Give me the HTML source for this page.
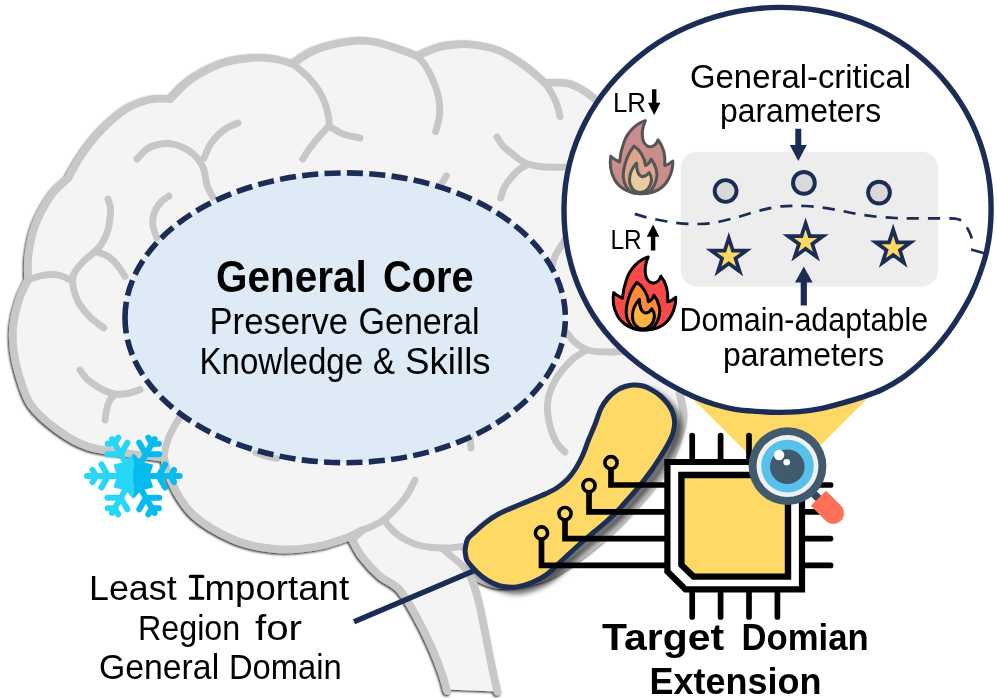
<!DOCTYPE html>
<html><head><meta charset="utf-8"><title>diagram</title>
<style>
html,body{margin:0;padding:0;background:#fff;}
svg{display:block;}
text{font-family:"Liberation Sans",sans-serif;fill:#000;}
</style></head><body>
<svg width="997" height="698" viewBox="0 0 997 698">
<rect width="997" height="698" fill="#fff"/>
<defs>
<filter id="bs" x="-5%" y="-5%" width="110%" height="110%"><feDropShadow dx="-1" dy="1.3" stdDeviation="0.8" flood-color="#000" flood-opacity="0.85"/></filter>
<filter id="ys" x="-20%" y="-20%" width="140%" height="140%"><feDropShadow dx="5.5" dy="4.5" stdDeviation="2.4" flood-color="#000" flood-opacity="0.55"/></filter>
<clipPath id="bc"><path d="M447.0 691.0 C446.2 688.3 444.6 681.1 442.4 674.7 C440.2 668.3 437.1 660.0 434.0 652.7 C430.9 645.4 427.5 638.0 423.8 630.7 C420.1 623.4 416.2 615.7 412.0 608.7 C407.8 601.7 403.9 594.0 398.5 588.5 C393.1 583.0 385.6 580.9 379.5 575.6 C373.4 570.3 366.6 562.7 362.0 556.7 C357.4 550.7 353.7 542.4 352.0 539.5 L362.0 530.3 C360.0 531.3 353.7 534.7 350.0 536.3 C346.3 537.9 344.2 538.6 340.0 540.0 C335.8 541.4 330.6 543.4 325.0 544.7 C319.4 546.0 313.2 547.2 306.5 548.0 C299.8 548.8 292.1 549.5 285.0 549.5 C277.9 549.5 271.5 549.0 264.0 547.7 C256.5 546.5 247.3 544.5 240.0 542.0 C232.7 539.5 226.1 536.2 220.0 533.0 C213.9 529.8 208.4 526.5 203.5 523.0 C198.6 519.5 194.4 516.2 190.5 512.0 C186.6 507.8 183.0 502.7 180.0 498.0 C177.0 493.3 174.7 488.7 172.5 484.0 C170.3 479.3 168.4 474.3 167.0 470.0 C165.6 465.7 164.5 460.0 164.0 458.0 C161.7 457.7 156.5 456.8 150.0 456.0 C143.5 455.2 135.4 454.6 125.0 453.0 C114.6 451.4 99.0 450.3 87.8 446.5 C76.6 442.7 67.2 436.9 57.7 430.0 C48.2 423.1 37.5 414.2 31.0 405.0 C24.6 395.8 21.9 384.2 19.0 375.0 C16.1 365.8 14.5 358.2 13.6 350.0 C12.7 341.8 12.4 333.8 13.3 325.5 C14.2 317.2 16.6 307.6 19.0 300.0 C21.4 292.4 26.5 283.3 28.0 280.0 C28.1 275.8 27.3 264.2 28.5 255.0 C29.7 245.8 31.5 235.0 35.3 225.0 C39.1 215.0 46.0 202.8 51.5 195.0 C57.0 187.2 65.2 181.2 68.0 178.5 C68.8 177.1 69.7 174.8 72.5 170.0 C75.3 165.2 80.0 156.8 85.0 150.0 C90.0 143.2 95.7 135.8 102.5 129.0 C109.3 122.2 118.1 113.9 126.0 109.0 C133.9 104.1 142.6 101.2 150.0 99.5 C157.4 97.8 167.1 99.1 170.5 99.0 C173.8 95.8 181.8 85.8 190.0 80.0 C198.2 74.2 210.0 67.7 220.0 64.0 C230.0 60.3 240.8 58.8 250.0 58.0 C259.2 57.2 267.9 58.0 275.0 59.0 C282.1 60.0 289.7 63.2 292.6 64.0 C296.3 61.7 305.4 53.8 315.0 50.0 C324.6 46.2 340.0 42.6 350.0 41.3 C360.0 40.0 366.7 40.6 375.0 42.0 C383.3 43.4 393.0 47.2 400.0 49.5 C407.0 51.8 414.2 54.9 417.0 56.0 C420.5 54.6 431.7 49.5 438.0 47.6 C444.3 45.7 448.8 44.9 455.0 44.5 C461.2 44.1 467.5 43.9 475.0 45.0 C482.5 46.1 491.7 47.5 500.0 51.0 C508.3 54.5 517.5 60.7 525.0 66.0 C532.5 71.3 541.7 80.2 545.0 83.0 C549.2 83.2 561.7 81.3 570.0 84.0 C578.3 86.7 586.7 92.2 595.0 99.0 C603.3 105.8 612.5 114.8 620.0 125.0 C627.5 135.2 636.7 154.2 640.0 160.0 L700 300 L679.5 393 C680.2 396.8 683.8 408.2 683.5 416.0 C683.2 423.8 680.2 431.8 677.5 440.0 C674.8 448.2 673.2 455.0 667.0 465.0 C660.8 475.0 651.2 487.5 640.0 500.0 C628.8 512.5 615.0 527.5 600.0 540.0 C585.0 552.5 566.7 567.5 550.0 575.0 C533.3 582.5 513.7 585.5 500.0 585.0 C486.3 584.5 473.3 574.2 468.0 572.0 C468.9 574.0 471.7 578.8 473.5 584.0 C475.3 589.2 477.1 595.2 479.0 603.0 C480.9 610.8 483.0 622.4 484.7 630.7 C486.4 639.0 487.5 645.4 489.0 652.7 C490.5 660.0 492.1 668.2 493.5 674.7 C494.9 681.2 496.8 688.8 497.4 691.6 L447 689.5 Z"/></clipPath>
</defs>
<g filter="url(#bs)"><path d="M447.0 691.0 C446.2 688.3 444.6 681.1 442.4 674.7 C440.2 668.3 437.1 660.0 434.0 652.7 C430.9 645.4 427.5 638.0 423.8 630.7 C420.1 623.4 416.2 615.7 412.0 608.7 C407.8 601.7 403.9 594.0 398.5 588.5 C393.1 583.0 385.6 580.9 379.5 575.6 C373.4 570.3 366.6 562.7 362.0 556.7 C357.4 550.7 353.7 542.4 352.0 539.5 L362.0 530.3 C360.0 531.3 353.7 534.7 350.0 536.3 C346.3 537.9 344.2 538.6 340.0 540.0 C335.8 541.4 330.6 543.4 325.0 544.7 C319.4 546.0 313.2 547.2 306.5 548.0 C299.8 548.8 292.1 549.5 285.0 549.5 C277.9 549.5 271.5 549.0 264.0 547.7 C256.5 546.5 247.3 544.5 240.0 542.0 C232.7 539.5 226.1 536.2 220.0 533.0 C213.9 529.8 208.4 526.5 203.5 523.0 C198.6 519.5 194.4 516.2 190.5 512.0 C186.6 507.8 183.0 502.7 180.0 498.0 C177.0 493.3 174.7 488.7 172.5 484.0 C170.3 479.3 168.4 474.3 167.0 470.0 C165.6 465.7 164.5 460.0 164.0 458.0 C161.7 457.7 156.5 456.8 150.0 456.0 C143.5 455.2 135.4 454.6 125.0 453.0 C114.6 451.4 99.0 450.3 87.8 446.5 C76.6 442.7 67.2 436.9 57.7 430.0 C48.2 423.1 37.5 414.2 31.0 405.0 C24.6 395.8 21.9 384.2 19.0 375.0 C16.1 365.8 14.5 358.2 13.6 350.0 C12.7 341.8 12.4 333.8 13.3 325.5 C14.2 317.2 16.6 307.6 19.0 300.0 C21.4 292.4 26.5 283.3 28.0 280.0 C28.1 275.8 27.3 264.2 28.5 255.0 C29.7 245.8 31.5 235.0 35.3 225.0 C39.1 215.0 46.0 202.8 51.5 195.0 C57.0 187.2 65.2 181.2 68.0 178.5 C68.8 177.1 69.7 174.8 72.5 170.0 C75.3 165.2 80.0 156.8 85.0 150.0 C90.0 143.2 95.7 135.8 102.5 129.0 C109.3 122.2 118.1 113.9 126.0 109.0 C133.9 104.1 142.6 101.2 150.0 99.5 C157.4 97.8 167.1 99.1 170.5 99.0 C173.8 95.8 181.8 85.8 190.0 80.0 C198.2 74.2 210.0 67.7 220.0 64.0 C230.0 60.3 240.8 58.8 250.0 58.0 C259.2 57.2 267.9 58.0 275.0 59.0 C282.1 60.0 289.7 63.2 292.6 64.0 C296.3 61.7 305.4 53.8 315.0 50.0 C324.6 46.2 340.0 42.6 350.0 41.3 C360.0 40.0 366.7 40.6 375.0 42.0 C383.3 43.4 393.0 47.2 400.0 49.5 C407.0 51.8 414.2 54.9 417.0 56.0 C420.5 54.6 431.7 49.5 438.0 47.6 C444.3 45.7 448.8 44.9 455.0 44.5 C461.2 44.1 467.5 43.9 475.0 45.0 C482.5 46.1 491.7 47.5 500.0 51.0 C508.3 54.5 517.5 60.7 525.0 66.0 C532.5 71.3 541.7 80.2 545.0 83.0 C549.2 83.2 561.7 81.3 570.0 84.0 C578.3 86.7 586.7 92.2 595.0 99.0 C603.3 105.8 612.5 114.8 620.0 125.0 C627.5 135.2 636.7 154.2 640.0 160.0 L700 300 L679.5 393 C680.2 396.8 683.8 408.2 683.5 416.0 C683.2 423.8 680.2 431.8 677.5 440.0 C674.8 448.2 673.2 455.0 667.0 465.0 C660.8 475.0 651.2 487.5 640.0 500.0 C628.8 512.5 615.0 527.5 600.0 540.0 C585.0 552.5 566.7 567.5 550.0 575.0 C533.3 582.5 513.7 585.5 500.0 585.0 C486.3 584.5 473.3 574.2 468.0 572.0 C468.9 574.0 471.7 578.8 473.5 584.0 C475.3 589.2 477.1 595.2 479.0 603.0 C480.9 610.8 483.0 622.4 484.7 630.7 C486.4 639.0 487.5 645.4 489.0 652.7 C490.5 660.0 492.1 668.2 493.5 674.7 C494.9 681.2 496.8 688.8 497.4 691.6 L447 689.5 Z" fill="#f4f4f4"/><path d="M447.0 691.0 C446.2 688.3 444.6 681.1 442.4 674.7 C440.2 668.3 437.1 660.0 434.0 652.7 C430.9 645.4 427.5 638.0 423.8 630.7 C420.1 623.4 416.2 615.7 412.0 608.7 C407.8 601.7 403.9 594.0 398.5 588.5 C393.1 583.0 385.6 580.9 379.5 575.6 C373.4 570.3 366.6 562.7 362.0 556.7 C357.4 550.7 353.7 542.4 352.0 539.5 L362.0 530.3 C360.0 531.3 353.7 534.7 350.0 536.3 C346.3 537.9 344.2 538.6 340.0 540.0 C335.8 541.4 330.6 543.4 325.0 544.7 C319.4 546.0 313.2 547.2 306.5 548.0 C299.8 548.8 292.1 549.5 285.0 549.5 C277.9 549.5 271.5 549.0 264.0 547.7 C256.5 546.5 247.3 544.5 240.0 542.0 C232.7 539.5 226.1 536.2 220.0 533.0 C213.9 529.8 208.4 526.5 203.5 523.0 C198.6 519.5 194.4 516.2 190.5 512.0 C186.6 507.8 183.0 502.7 180.0 498.0 C177.0 493.3 174.7 488.7 172.5 484.0 C170.3 479.3 168.4 474.3 167.0 470.0 C165.6 465.7 164.5 460.0 164.0 458.0 C161.7 457.7 156.5 456.8 150.0 456.0 C143.5 455.2 135.4 454.6 125.0 453.0 C114.6 451.4 99.0 450.3 87.8 446.5 C76.6 442.7 67.2 436.9 57.7 430.0 C48.2 423.1 37.5 414.2 31.0 405.0 C24.6 395.8 21.9 384.2 19.0 375.0 C16.1 365.8 14.5 358.2 13.6 350.0 C12.7 341.8 12.4 333.8 13.3 325.5 C14.2 317.2 16.6 307.6 19.0 300.0 C21.4 292.4 26.5 283.3 28.0 280.0 C28.1 275.8 27.3 264.2 28.5 255.0 C29.7 245.8 31.5 235.0 35.3 225.0 C39.1 215.0 46.0 202.8 51.5 195.0 C57.0 187.2 65.2 181.2 68.0 178.5 C68.8 177.1 69.7 174.8 72.5 170.0 C75.3 165.2 80.0 156.8 85.0 150.0 C90.0 143.2 95.7 135.8 102.5 129.0 C109.3 122.2 118.1 113.9 126.0 109.0 C133.9 104.1 142.6 101.2 150.0 99.5 C157.4 97.8 167.1 99.1 170.5 99.0 C173.8 95.8 181.8 85.8 190.0 80.0 C198.2 74.2 210.0 67.7 220.0 64.0 C230.0 60.3 240.8 58.8 250.0 58.0 C259.2 57.2 267.9 58.0 275.0 59.0 C282.1 60.0 289.7 63.2 292.6 64.0 C296.3 61.7 305.4 53.8 315.0 50.0 C324.6 46.2 340.0 42.6 350.0 41.3 C360.0 40.0 366.7 40.6 375.0 42.0 C383.3 43.4 393.0 47.2 400.0 49.5 C407.0 51.8 414.2 54.9 417.0 56.0 C420.5 54.6 431.7 49.5 438.0 47.6 C444.3 45.7 448.8 44.9 455.0 44.5 C461.2 44.1 467.5 43.9 475.0 45.0 C482.5 46.1 491.7 47.5 500.0 51.0 C508.3 54.5 517.5 60.7 525.0 66.0 C532.5 71.3 541.7 80.2 545.0 83.0 C549.2 83.2 561.7 81.3 570.0 84.0 C578.3 86.7 586.7 92.2 595.0 99.0 C603.3 105.8 612.5 114.8 620.0 125.0 C627.5 135.2 636.7 154.2 640.0 160.0 L700 300 L679.5 393 C680.2 396.8 683.8 408.2 683.5 416.0 C683.2 423.8 680.2 431.8 677.5 440.0 C674.8 448.2 673.2 455.0 667.0 465.0 C660.8 475.0 651.2 487.5 640.0 500.0 C628.8 512.5 615.0 527.5 600.0 540.0 C585.0 552.5 566.7 567.5 550.0 575.0 C533.3 582.5 513.7 585.5 500.0 585.0 C486.3 584.5 473.3 574.2 468.0 572.0 C468.9 574.0 471.7 578.8 473.5 584.0 C475.3 589.2 477.1 595.2 479.0 603.0 C480.9 610.8 483.0 622.4 484.7 630.7 C486.4 639.0 487.5 645.4 489.0 652.7 C490.5 660.0 492.1 668.2 493.5 674.7 C494.9 681.2 496.8 688.8 497.4 691.6" fill="none" stroke="#c8c8c8" stroke-width="7.8" stroke-linejoin="round" stroke-linecap="round"/></g>
<g fill="none" stroke="#c7c7c7" stroke-width="6.9" stroke-linecap="round" stroke-linejoin="round">
<path d="M137.0 159.0 C138.7 157.3 143.2 151.5 147.0 149.0 C150.8 146.5 155.3 144.8 160.0 144.0 C164.7 143.2 170.3 143.5 175.0 144.5 C179.7 145.5 184.2 147.6 188.0 150.0 C191.8 152.4 195.3 155.7 198.0 159.0 C200.7 162.3 202.5 165.7 204.0 170.0 C205.5 174.3 205.5 180.4 207.0 185.0 C208.5 189.6 212.0 195.4 213.0 197.5"/>
<path d="M238.0 123.0 C236.2 123.8 230.3 126.0 227.0 128.0 C223.7 130.0 220.8 132.2 218.0 135.0 C215.2 137.8 212.3 141.2 210.0 145.0 C207.7 148.8 205.0 155.8 204.0 158.0"/>
<path d="M292.6 64.0 C294.7 65.7 301.3 70.5 305.0 74.0 C308.7 77.5 312.1 81.2 315.0 85.0 C317.9 88.8 320.4 93.2 322.3 97.0 C324.2 100.8 325.4 104.5 326.5 108.0 C327.6 111.5 328.2 115.0 328.7 118.0 C329.2 121.0 329.2 124.7 329.3 126.0"/>
<path d="M329.0 126.0 C331.3 127.3 337.8 132.0 343.0 134.0 C348.2 136.0 357.2 137.3 360.0 138.0"/>
<path d="M329.0 126.0 C327.2 128.0 321.2 134.3 318.0 138.0 C314.8 141.7 312.6 144.5 310.0 148.0 C307.4 151.5 303.9 157.2 302.7 159.0"/>
<path d="M417.0 56.0 C418.3 57.5 422.8 61.8 425.0 65.0 C427.2 68.2 428.7 71.2 430.5 75.0 C432.3 78.8 434.6 83.8 436.0 88.0 C437.4 92.2 438.4 95.3 439.0 100.0 C439.6 104.7 440.1 110.7 439.5 116.0 C438.9 121.3 436.2 129.0 435.6 131.6"/>
<path d="M545.0 83.0 C546.0 84.5 549.3 89.2 551.0 92.0 C552.7 94.8 553.8 97.3 555.0 100.0 C556.2 102.7 557.2 105.2 558.0 108.0 C558.8 110.8 559.7 115.2 560.0 116.6"/>
<path d="M497.0 137.0 C498.0 138.5 500.8 143.5 503.0 146.0 C505.2 148.5 507.5 149.9 510.0 152.0 C512.5 154.1 515.0 156.5 518.0 158.5 C521.0 160.5 524.3 162.7 528.0 164.0 C531.7 165.3 536.0 166.0 540.0 166.5 C544.0 167.0 547.0 167.1 552.0 167.2 C557.0 167.3 567.0 167.0 570.0 167.0"/>
<path d="M528.0 164.5 C526.7 165.2 522.3 167.4 520.0 169.0 C517.7 170.6 516.3 172.0 514.4 174.0 C512.5 176.0 510.2 178.7 508.5 181.0 C506.8 183.3 505.3 185.2 504.0 188.0 C502.7 190.8 501.2 196.3 500.6 198.0"/>
<path d="M575.0 228.0 C573.8 229.2 570.1 232.4 568.0 235.0 C565.9 237.6 564.6 240.5 562.5 243.8 C560.4 247.1 557.4 251.2 555.6 255.0 C553.9 258.8 552.6 264.8 552.0 266.7"/>
<path d="M28.0 280.0 C30.0 279.3 36.3 276.9 40.0 276.0 C43.7 275.1 46.7 274.6 50.0 274.5 C53.3 274.4 56.3 274.5 60.0 275.5 C63.7 276.5 70.0 279.7 72.0 280.5"/>
<path d="M108.0 199.0 C108.4 200.5 110.2 204.9 110.5 208.0 C110.8 211.1 110.3 214.3 110.0 217.6 C109.7 220.9 109.3 224.7 108.5 228.0 C107.7 231.3 106.4 234.7 105.0 237.7 C103.6 240.7 101.7 243.7 100.0 246.0 C98.3 248.3 97.3 249.3 95.0 251.5 C92.7 253.7 88.9 256.3 86.0 259.0 C83.1 261.7 79.8 265.1 77.7 267.8 C75.6 270.5 74.3 272.5 73.5 275.0 C72.7 277.5 72.5 279.8 72.7 283.0 C73.0 286.2 73.8 290.3 75.0 294.0 C76.2 297.7 77.3 301.0 80.0 305.0 C82.7 309.0 87.0 314.2 91.0 318.0 C95.0 321.8 101.8 326.3 104.0 328.0"/>
<path d="M95.0 251.5 C96.3 251.9 100.5 253.0 103.0 254.0 C105.5 255.0 107.5 255.7 110.0 257.7 C112.5 259.7 115.5 262.9 118.0 266.0 C120.5 269.1 123.8 274.8 125.0 276.5"/>
<path d="M169.0 196.0 C167.7 197.0 163.2 199.7 161.0 202.0 C158.8 204.3 156.8 207.3 155.5 210.0 C154.2 212.7 153.4 215.3 153.0 218.0 C152.6 220.7 152.4 222.7 153.0 226.0 C153.6 229.3 156.1 235.8 156.7 237.7"/>
<path d="M80.0 370.0 C81.0 371.3 83.5 375.5 86.0 378.0 C88.5 380.5 92.0 382.9 95.0 385.0 C98.0 387.1 100.7 389.0 104.0 390.5 C107.3 392.0 111.0 393.5 115.0 394.0 C119.0 394.5 123.8 394.2 128.0 393.5 C132.2 392.8 138.0 390.2 140.0 389.6"/>
<path d="M115.0 394.6 C114.2 395.5 111.3 397.8 110.0 400.0 C108.7 402.2 107.8 404.7 107.0 408.0 C106.2 411.3 105.3 418.0 105.0 420.0"/>
<path d="M164.0 458.0 C164.2 456.3 164.7 451.5 165.5 448.0 C166.3 444.5 167.6 440.5 169.0 437.0 C170.4 433.5 172.2 430.3 174.0 427.0 C175.8 423.7 179.0 418.7 180.0 417.0"/>
<path d="M256.0 452.5 C257.7 453.1 262.5 455.3 266.0 456.3 C269.5 457.3 275.2 458.0 277.0 458.3"/>
<path d="M415.0 480.0 C414.2 481.5 412.2 486.0 410.5 489.0 C408.8 492.0 407.8 494.4 405.0 498.0 C402.2 501.6 397.7 506.8 394.0 510.5 C390.3 514.2 386.7 517.7 383.0 520.3 C379.3 522.9 375.5 524.6 372.0 526.3 C368.5 528.0 363.7 529.6 362.0 530.3"/>
<path d="M384.0 520.0 C385.0 521.2 387.9 525.2 390.0 527.5 C392.1 529.8 394.0 531.9 396.7 534.0 C399.4 536.1 402.6 538.2 406.0 540.0 C409.4 541.8 413.0 543.5 417.0 544.7 C421.0 545.9 425.7 546.8 430.0 547.3 C434.3 547.8 439.3 547.9 443.0 548.0 C446.7 548.1 448.8 548.0 452.0 547.8 C455.2 547.5 460.3 546.7 462.0 546.5"/>
<path d="M443.0 549.0 C444.3 550.2 448.2 553.6 451.0 556.0 C453.8 558.4 457.2 560.9 460.0 563.6 C462.8 566.3 466.7 570.6 468.0 572.0"/>
<path d="M470.0 436.0 C470.2 438.0 470.8 446.0 471.0 448.0"/>
<path d="M567.6 333.5 C568.5 334.7 570.9 338.4 573.0 340.5 C575.1 342.6 578.0 344.8 580.5 346.4 C583.0 348.0 585.4 349.1 588.0 350.0 C590.6 350.9 592.7 351.3 596.0 351.6 C599.3 351.9 603.7 352.0 608.0 352.0 C612.3 352.0 615.0 351.8 622.0 351.6 C629.0 351.4 645.3 351.1 650.0 351.0"/>
<path d="M586.0 350.3 C584.0 351.6 577.5 355.2 574.0 358.0 C570.5 360.8 568.0 363.5 565.0 367.0 C562.0 370.5 558.6 374.7 556.0 379.0 C553.4 383.3 551.0 388.6 549.6 392.8 C548.2 397.0 547.8 400.1 547.5 404.0 C547.2 407.9 547.5 412.0 548.0 416.0 C548.5 420.0 549.4 424.2 550.5 428.0 C551.6 431.8 553.3 436.0 554.7 439.0 C556.1 442.0 557.3 443.8 559.0 446.0 C560.7 448.2 564.0 451.0 565.0 452.0"/>
<path d="M446.4 175.8 C445.5 177.3 441.9 183.3 441.0 184.8"/>
</g>
<path d="M125.0 317.8 A220.2 144.9 0 1 1 565.4 317.8 A220.2 144.9 0 1 1 125.0 317.8" fill="#deebf7" stroke="#1b2d56" stroke-width="5.6" stroke-dasharray="16.100 6.314"/>
<path d="M690 396 L748 454 L822 444 L874 392 L790 380 Z" fill="#ffd966"/>
<g filter="url(#ys)"><path d="M465.0 550.5 C465.4 548.7 465.9 542.5 467.5 539.5 C469.1 536.5 471.5 535.1 474.4 532.4 C477.3 529.6 481.0 526.1 485.0 523.0 C489.0 519.9 492.7 517.1 498.5 514.0 C504.3 510.9 513.0 507.5 520.0 504.5 C527.0 501.5 534.6 498.7 540.6 496.0 C546.6 493.3 551.5 491.3 556.0 488.5 C560.5 485.7 564.4 482.4 567.7 479.0 C571.0 475.6 573.5 472.0 576.0 468.0 C578.5 464.0 580.7 459.7 582.8 455.0 C584.9 450.3 586.5 445.0 588.5 440.0 C590.5 435.0 592.7 430.2 594.8 425.0 C596.9 419.8 598.8 413.0 601.0 408.5 C603.2 404.0 605.3 401.1 608.0 398.0 C610.7 394.9 614.5 391.9 617.3 390.0 C620.1 388.1 622.3 387.3 625.0 386.5 C627.7 385.7 630.4 385.1 633.4 385.0 C636.4 384.9 640.0 385.2 643.0 386.0 C646.0 386.8 648.9 388.2 651.7 389.8 C654.5 391.4 657.3 393.2 660.0 395.5 C662.7 397.8 665.6 400.9 667.7 403.6 C669.8 406.4 671.4 408.9 672.5 412.0 C673.6 415.1 674.5 418.5 674.6 422.0 C674.7 425.5 674.1 429.2 673.0 433.0 C671.9 436.8 669.9 440.7 667.7 444.8 C665.5 448.9 662.7 453.3 660.0 457.5 C657.3 461.7 654.5 466.0 651.7 470.0 C648.9 474.0 645.7 478.1 643.0 481.5 C640.3 484.9 638.4 487.4 635.6 490.7 C632.8 494.0 629.4 497.7 626.0 501.5 C622.6 505.3 618.2 510.4 615.0 513.6 C611.8 516.9 610.5 517.9 607.0 521.0 C603.5 524.1 598.5 528.2 594.0 532.0 C589.5 535.8 585.0 539.4 579.8 544.0 C574.6 548.6 568.5 554.4 563.0 559.5 C557.5 564.6 551.9 570.7 546.7 574.5 C541.5 578.3 537.0 580.4 532.0 582.5 C527.0 584.6 521.4 586.3 516.6 587.0 C511.8 587.7 507.0 587.2 503.0 586.5 C499.0 585.8 496.0 584.7 492.5 583.0 C489.0 581.3 485.2 579.0 482.0 576.5 C478.8 574.0 475.5 570.8 473.0 568.0 C470.5 565.2 468.1 562.9 466.8 560.0 C465.5 557.1 465.3 552.1 465.0 550.5Z" fill="#ffd966" stroke="#1b2d56" stroke-width="5" stroke-linejoin="round"/></g>
<path d="M991.10 208.00 C991.13 215.43 990.83 222.90 990.05 230.29 C989.27 237.67 988.13 245.09 986.43 252.30 C984.73 259.52 982.36 266.62 979.87 273.59 C977.38 280.57 974.68 287.49 971.49 294.15 C968.31 300.80 964.59 307.23 960.76 313.52 C956.94 319.81 952.90 325.99 948.54 331.90 C944.17 337.81 939.52 343.56 934.57 348.98 C929.63 354.40 924.34 359.56 918.86 364.44 C913.38 369.32 907.74 374.12 901.70 378.26 C895.67 382.40 889.24 386.12 882.66 389.27 C876.07 392.41 869.07 394.78 862.20 397.13 C855.34 399.47 848.39 401.41 841.47 403.33 C834.54 405.25 827.66 407.27 820.65 408.64 C813.64 410.01 806.50 410.95 799.40 411.57 C792.29 412.18 785.13 412.37 778.00 412.34 C770.87 412.30 763.76 411.86 756.63 411.35 C749.49 410.85 742.27 410.50 735.21 409.32 C728.14 408.14 721.10 406.38 714.23 404.28 C707.35 402.18 700.59 399.57 693.98 396.72 C687.37 393.86 680.90 390.62 674.57 387.15 C668.23 383.69 662.05 379.92 655.98 375.95 C649.90 371.99 643.89 367.84 638.12 363.36 C632.34 358.87 626.66 354.14 621.34 349.05 C616.03 343.96 610.92 338.53 606.21 332.81 C601.50 327.10 597.07 321.04 593.09 314.76 C589.12 308.47 585.55 301.85 582.37 295.10 C579.20 288.35 576.40 281.36 574.03 274.27 C571.66 267.19 569.66 259.92 568.14 252.61 C566.62 245.29 565.60 237.83 564.91 230.40 C564.23 222.96 563.92 215.46 564.00 208.00 C564.09 200.54 564.51 193.04 565.43 185.66 C566.35 178.27 567.73 170.89 569.52 163.69 C571.30 156.48 573.54 149.34 576.15 142.42 C578.76 135.49 581.80 128.70 585.17 122.15 C588.54 115.60 592.31 109.23 596.36 103.13 C600.41 97.03 604.83 91.15 609.48 85.56 C614.13 79.97 619.11 74.63 624.28 69.59 C629.46 64.55 634.91 59.78 640.53 55.33 C646.15 50.87 652.01 46.70 658.01 42.85 C664.01 38.99 670.20 35.44 676.51 32.21 C682.81 28.98 689.28 26.05 695.83 23.45 C702.38 20.84 709.07 18.55 715.81 16.58 C722.54 14.61 729.39 12.96 736.26 11.63 C743.13 10.29 750.08 9.28 757.04 8.58 C764.00 7.88 771.01 7.49 778.00 7.41 C784.99 7.34 792.02 7.57 799.01 8.12 C806.00 8.67 813.00 9.54 819.93 10.74 C826.86 11.94 833.78 13.47 840.60 15.34 C847.42 17.21 854.20 19.41 860.83 21.95 C867.47 24.50 874.04 27.38 880.42 30.60 C886.81 33.82 893.09 37.38 899.14 41.26 C905.20 45.14 911.11 49.37 916.76 53.89 C922.41 58.42 927.87 63.28 933.03 68.41 C938.19 73.54 943.12 79.00 947.71 84.70 C952.30 90.40 956.62 96.39 960.57 102.59 C964.51 108.80 968.15 115.27 971.38 121.90 C974.61 128.53 977.49 135.40 979.96 142.38 C982.42 149.36 984.50 156.53 986.15 163.76 C987.80 170.98 989.05 178.36 989.87 185.73 C990.70 193.11 991.07 200.57 991.10 208.00 Z" fill="#fff" stroke="#1b2d56" stroke-width="5.4"/>
<line x1="474" y1="570.8" x2="354" y2="621.8" stroke="#1b2d56" stroke-width="5.3"/>
<g fill="none" stroke="#000" stroke-width="5.7" stroke-linecap="round" stroke-linejoin="miter">
<line x1="692.2" y1="435.5" x2="692.2" y2="461" />
<line x1="692.2" y1="591" x2="692.2" y2="617" />
<line x1="720.6" y1="435.5" x2="720.6" y2="461" />
<line x1="720.6" y1="591" x2="720.6" y2="617" />
<line x1="749" y1="435.5" x2="749" y2="461" />
<line x1="749" y1="591" x2="749" y2="617" />
<line x1="777.4" y1="435.5" x2="777.4" y2="461" />
<line x1="777.4" y1="591" x2="777.4" y2="617" />
<line x1="803" y1="485" x2="830.6" y2="485" />
<line x1="803" y1="511.8" x2="830.6" y2="511.8" />
<line x1="803" y1="538.6" x2="830.6" y2="538.6" />
<line x1="803" y1="565.4" x2="830.6" y2="565.4" />
<path d="M611 468.7 L611 485 L666 485" stroke-linecap="butt"/>
<path d="M589 491.6 L589 511.8 L666 511.8" stroke-linecap="butt"/>
<path d="M565 519.6 L565 538.6 L666 538.6" stroke-linecap="butt"/>
<path d="M541.5 539 L541.5 565.4 L666 565.4" stroke-linecap="butt"/>
</g>
<circle cx="611" cy="462.7" r="6.1" fill="#ffd966" stroke="#000" stroke-width="3.6"/>
<circle cx="589" cy="485.6" r="6.1" fill="#ffd966" stroke="#000" stroke-width="3.6"/>
<circle cx="565" cy="513.6" r="6.1" fill="#ffd966" stroke="#000" stroke-width="3.6"/>
<circle cx="541.5" cy="533" r="6.1" fill="#ffd966" stroke="#000" stroke-width="3.6"/>
<path d="M667.4 462 L802 462 L802 589.4 L685.5 589.4 L667.4 571.5 Z" fill="#fff" stroke="#000" stroke-width="6.2" stroke-linejoin="miter"/>
<path d="M681.4 475 L788 475 L788 576.6 L693.5 576.6 L681.4 565 Z" fill="#ffd966" stroke="#000" stroke-width="6.4" stroke-linejoin="miter"/>
<g>
<g transform="translate(818.4 498.3) rotate(45)">
<rect x="-12" y="-3.8" width="14" height="7.6" fill="#2f4a5f"/>
<path d="M0 -10.7 L21 -10.7 A10.7 10.7 0 0 1 21 10.7 L0 10.7 Z" fill="#ff7058"/>
</g>
<circle cx="787.5" cy="466.1" r="38.9" fill="#415a6e"/>
<circle cx="787.5" cy="466.1" r="31" fill="#eef1f2"/>
<circle cx="787.5" cy="466.1" r="26.3" fill="#56c1ea"/>
<circle cx="787.3" cy="466.8" r="17.3" fill="#415a6e"/>
<circle cx="779.1" cy="455" r="5.2" fill="#fff"/>
<circle cx="786.7" cy="462.3" r="3.3" fill="#fff"/>
</g>
<rect x="680.8" y="151.7" width="257" height="134.8" rx="16" ry="16" fill="#ededed"/>
<circle cx="725.6" cy="191" r="10.9" fill="#d9d9d9" stroke="#1b2d56" stroke-width="3.9"/>
<circle cx="803.9" cy="182.9" r="10.9" fill="#d9d9d9" stroke="#1b2d56" stroke-width="3.9"/>
<circle cx="879" cy="192.6" r="10.9" fill="#d9d9d9" stroke="#1b2d56" stroke-width="3.9"/>
<path d="M728.80 238.00 L732.93 250.71 L746.30 250.71 L735.49 258.57 L739.62 271.29 L728.80 263.43 L717.98 271.29 L722.11 258.57 L711.30 250.71 L724.67 250.71Z" fill="#ffd966" stroke="#1b2d56" stroke-width="3.7" stroke-linejoin="miter" stroke-miterlimit="10"/>
<path d="M805.60 223.40 L809.73 236.11 L823.10 236.11 L812.29 243.97 L816.42 256.69 L805.60 248.83 L794.78 256.69 L798.91 243.97 L788.10 236.11 L801.47 236.11Z" fill="#ffd966" stroke="#1b2d56" stroke-width="3.7" stroke-linejoin="miter" stroke-miterlimit="10"/>
<path d="M893.20 229.60 L897.33 242.31 L910.70 242.31 L899.89 250.17 L904.02 262.89 L893.20 255.03 L882.38 262.89 L886.51 250.17 L875.70 242.31 L889.07 242.31Z" fill="#ffd966" stroke="#1b2d56" stroke-width="3.7" stroke-linejoin="miter" stroke-miterlimit="10"/>
<path d="M634.8 214.0 C636.8 214.6 643.1 216.5 646.5 217.4 C649.9 218.3 651.6 218.5 655.0 219.2 C658.4 219.9 663.5 220.9 667.0 221.5 C670.5 222.1 672.5 222.4 676.0 222.8 C679.5 223.2 684.3 223.7 688.0 223.9 C691.7 224.1 694.3 224.1 698.0 224.0 C701.7 223.9 706.3 223.7 710.0 223.3 C713.7 222.9 716.5 222.2 720.0 221.5 C723.5 220.8 727.7 219.7 731.0 218.9 C734.3 218.1 736.7 217.5 740.0 216.5 C743.3 215.5 747.7 214.0 751.0 213.0 C754.3 212.0 756.5 211.4 760.0 210.5 C763.5 209.6 768.3 208.4 772.0 207.7 C775.7 207.0 778.7 206.6 782.0 206.3 C785.3 206.0 788.2 205.9 792.0 205.8 C795.8 205.8 799.9 205.7 805.0 206.0 C810.1 206.3 816.7 206.8 822.5 207.6 C828.3 208.3 834.5 209.5 840.0 210.5 C845.5 211.5 849.8 212.7 855.6 213.7 C861.4 214.7 868.5 215.8 875.0 216.5 C881.5 217.2 888.5 217.7 894.7 218.0 C900.9 218.3 906.0 218.3 912.0 218.4 C918.0 218.5 924.5 218.3 930.8 218.3 C937.1 218.3 945.5 218.2 950.0 218.4 C954.5 218.6 955.8 218.7 958.0 219.3 C960.2 219.9 961.4 220.4 963.0 222.0 C964.6 223.6 966.3 226.4 967.6 228.7 C968.9 231.0 970.1 233.6 971.0 236.0 C971.9 238.4 972.4 241.2 972.8 243.0 C973.2 244.8 973.2 246.3 973.3 247.0" fill="none" stroke="#1b2d56" stroke-width="2.7" stroke-dasharray="12.2 9.03"/>
<line x1="971" y1="249.5" x2="986" y2="253.8" stroke="#1b2d56" stroke-width="2.7"/>
<path d="M795.3 128.7 L801.3 128.7 L801.3 145 L806.8 145 L798.3 161 L789.8 145 L795.3 145 Z" fill="#1b2d56"/>
<path d="M800.7 305.6 L806.9 305.6 L806.9 282.5 L812.6 282.5 L803.8 266.5 L795 282.5 L800.7 282.5 Z" fill="#1b2d56"/>
<path d="M652 89.2 L656.4 89.2 L656.4 102.8 L660.4 102.8 L654.2 115 L648 102.8 L652 102.8 Z" fill="#000"/>
<path d="M650.9 250.6 L655.3 250.6 L655.3 236.7 L659.4 236.7 L653.1 224.5 L646.8 236.7 L650.9 236.7 Z" fill="#000"/>
<g transform="translate(0 0)" stroke="#555" stroke-width="3" stroke-linejoin="round" stroke-linecap="round"><path fill="#c98d8c" d="M645.3 120.6 C637 123 628 131 624 142 C621.5 149 620 156 619.5 162 C616.5 160.3 613 158.5 610.8 156.2 C609.6 163 610.6 172 614.3 179 C619 188 629 193.8 641.5 193.8 C654 193.8 664 188 669 178 C672 172 673 166 672.8 161 C670 163.5 667 165 664.8 165.5 C665.5 156 663 146 658 139.8 C657 143 655 145.5 652 146.5 C648 147.5 644.5 145 643 140 C641.5 134 642.5 127 645.3 120.6 Z"/><path fill="#dba68c" d="M634 146 C629 152 625 162 623.5 171 C622.5 178 624.5 186 630 191.5 C637 194.5 646 194.5 651 190.5 C656 184 658 176 656.5 170.6 C655.5 166 653.5 162 651 159 C650 162 648 164.5 645.5 165.5 C645 158 640 150 634 146 Z"/><path fill="#e9cba1" d="M636.5 163 C632 168 629.5 174 629.5 180 C629.5 187 634 192.6 640 192.6 C646 192.6 651 187 651.5 180 C651.5 177 650.5 174.5 649 172.5 C647 175.5 644 177 641.5 176.5 C638.5 175.5 636.5 170 636.5 163 Z"/></g>
<g transform="translate(2.9 136.3)" stroke="#000" stroke-width="3" stroke-linejoin="round" stroke-linecap="round"><path fill="#f94a4a" d="M645.3 120.6 C637 123 628 131 624 142 C621.5 149 620 156 619.5 162 C616.5 160.3 613 158.5 610.8 156.2 C609.6 163 610.6 172 614.3 179 C619 188 629 193.8 641.5 193.8 C654 193.8 664 188 669 178 C672 172 673 166 672.8 161 C670 163.5 667 165 664.8 165.5 C665.5 156 663 146 658 139.8 C657 143 655 145.5 652 146.5 C648 147.5 644.5 145 643 140 C641.5 134 642.5 127 645.3 120.6 Z"/><path fill="#ff8a3c" d="M634 146 C629 152 625 162 623.5 171 C622.5 178 624.5 186 630 191.5 C637 194.5 646 194.5 651 190.5 C656 184 658 176 656.5 170.6 C655.5 166 653.5 162 651 159 C650 162 648 164.5 645.5 165.5 C645 158 640 150 634 146 Z"/><path fill="#fcb23f" d="M636.5 163 C632 168 629.5 174 629.5 180 C629.5 187 634 192.6 640 192.6 C646 192.6 651 187 651.5 180 C651.5 177 650.5 174.5 649 172.5 C647 175.5 644 177 641.5 176.5 C638.5 175.5 636.5 170 636.5 163 Z"/></g>
<defs><clipPath id="sl"><rect x="70" y="420" width="63.3" height="110"/></clipPath><clipPath id="sr"><rect x="133.3" y="420" width="70" height="110"/></clipPath></defs>
<g clip-path="url(#sl)" stroke="#28d6f7" fill="#28d6f7"><path d="M133.30 476.00 L179.70 476.00 M170.50 476.00 L174.00 482.06 M170.50 476.00 L174.00 469.94 M158.50 476.00 L165.15 487.52 M158.50 476.00 L165.15 464.48 M133.30 476.00 L154.60 512.89 M151.90 508.22 L148.40 514.28 M151.90 508.22 L158.90 508.22 M145.90 497.82 L139.25 509.34 M145.90 497.82 L159.20 497.82 M133.30 476.00 L112.00 512.89 M114.70 508.22 L107.70 508.22 M114.70 508.22 L118.20 514.28 M120.70 497.82 L107.40 497.82 M120.70 497.82 L127.35 509.34 M133.30 476.00 L86.90 476.00 M96.10 476.00 L92.60 469.94 M96.10 476.00 L92.60 482.06 M108.10 476.00 L101.45 464.48 M108.10 476.00 L101.45 487.52 M133.30 476.00 L112.00 439.11 M114.70 443.78 L118.20 437.72 M114.70 443.78 L107.70 443.78 M120.70 454.18 L127.35 442.66 M120.70 454.18 L107.40 454.18 M133.30 476.00 L154.60 439.11 M151.90 443.78 L158.90 443.78 M151.90 443.78 L148.40 437.72 M145.90 454.18 L159.20 454.18 M145.90 454.18 L139.25 442.66" fill="none" stroke-width="6" stroke-linecap="round"/><path d="M151.75 486.65 L140.80 488.99 L133.30 497.30 L125.80 488.99 L114.85 486.65 L118.30 476.00 L114.85 465.35 L125.80 463.01 L133.30 454.70 L140.80 463.01 L151.75 465.35 L148.30 476.00 Z" stroke-width="2.4" stroke-linejoin="round"/></g>
<g clip-path="url(#sr)" stroke="#06bcee" fill="#06bcee"><path d="M133.30 476.00 L179.70 476.00 M170.50 476.00 L174.00 482.06 M170.50 476.00 L174.00 469.94 M158.50 476.00 L165.15 487.52 M158.50 476.00 L165.15 464.48 M133.30 476.00 L154.60 512.89 M151.90 508.22 L148.40 514.28 M151.90 508.22 L158.90 508.22 M145.90 497.82 L139.25 509.34 M145.90 497.82 L159.20 497.82 M133.30 476.00 L112.00 512.89 M114.70 508.22 L107.70 508.22 M114.70 508.22 L118.20 514.28 M120.70 497.82 L107.40 497.82 M120.70 497.82 L127.35 509.34 M133.30 476.00 L86.90 476.00 M96.10 476.00 L92.60 469.94 M96.10 476.00 L92.60 482.06 M108.10 476.00 L101.45 464.48 M108.10 476.00 L101.45 487.52 M133.30 476.00 L112.00 439.11 M114.70 443.78 L118.20 437.72 M114.70 443.78 L107.70 443.78 M120.70 454.18 L127.35 442.66 M120.70 454.18 L107.40 454.18 M133.30 476.00 L154.60 439.11 M151.90 443.78 L158.90 443.78 M151.90 443.78 L148.40 437.72 M145.90 454.18 L159.20 454.18 M145.90 454.18 L139.25 442.66" fill="none" stroke-width="6" stroke-linecap="round"/><path d="M151.75 486.65 L140.80 488.99 L133.30 497.30 L125.80 488.99 L114.85 486.65 L118.30 476.00 L114.85 465.35 L125.80 463.01 L133.30 454.70 L140.80 463.01 L151.75 465.35 L148.30 476.00 Z" stroke-width="2.4" stroke-linejoin="round"/></g>
<path d="M190.3 576.4 L202.9 576.4 M196.6 576.4 L196.6 598.2 M190.3 598.2 L202.9 598.2" fill="none" stroke="#000" stroke-width="3.1" stroke-linecap="round"/>
<g opacity="0.999">
<text x="216.00" y="291.80" font-size="44.77" font-weight="bold" textLength="150.64" lengthAdjust="spacingAndGlyphs">General</text>
<text x="383.00" y="291.80" font-size="44.77" font-weight="bold" textLength="90.59" lengthAdjust="spacingAndGlyphs">Core</text>
<text x="209.50" y="333.80" font-size="37.50" textLength="138.61" lengthAdjust="spacingAndGlyphs">Preserve</text>
<text x="358.50" y="333.80" font-size="37.50" textLength="121.11" lengthAdjust="spacingAndGlyphs">General</text>
<text x="199.50" y="373.70" font-size="36.63" textLength="163.59" lengthAdjust="spacingAndGlyphs">Knowledge</text>
<text x="373.00" y="373.70" font-size="36.63" textLength="22.05" lengthAdjust="spacingAndGlyphs">&amp;</text>
<text x="405.00" y="373.70" font-size="36.63" textLength="85.65" lengthAdjust="spacingAndGlyphs">Skills</text>
<text x="89.00" y="599.70" font-size="35.03" textLength="87.63" lengthAdjust="spacingAndGlyphs">Least</text>
<text x="204.50" y="599.70" font-size="35.03" textLength="144.56" lengthAdjust="spacingAndGlyphs">mportant</text>
<text x="138.00" y="639.70" font-size="35.03" textLength="102.22" lengthAdjust="spacingAndGlyphs">Region</text>
<text x="255.00" y="639.70" font-size="35.03" textLength="47.05" lengthAdjust="spacingAndGlyphs">for</text>
<text x="99.00" y="678.90" font-size="35.03" textLength="120.14" lengthAdjust="spacingAndGlyphs">General</text>
<text x="229.00" y="678.90" font-size="35.03" textLength="112.73" lengthAdjust="spacingAndGlyphs">Domain</text>
<text x="602.00" y="649.70" font-size="36.34" font-weight="bold" textLength="122.01" lengthAdjust="spacingAndGlyphs">Target</text>
<text x="741.50" y="649.70" font-size="36.34" font-weight="bold" textLength="127.14" lengthAdjust="spacingAndGlyphs">Domian</text>
<text x="649.50" y="693.90" font-size="36.77" font-weight="bold" textLength="172.13" lengthAdjust="spacingAndGlyphs">Extension</text>
<text x="690.00" y="88.20" font-size="34.01" textLength="221.08" lengthAdjust="spacingAndGlyphs">General-critical</text>
<text x="720.00" y="122.00" font-size="34.01" textLength="161.06" lengthAdjust="spacingAndGlyphs">parameters</text>
<text x="679.50" y="331.00" font-size="33.43" textLength="248.56" lengthAdjust="spacingAndGlyphs">Domain-adaptable</text>
<text x="723.00" y="365.60" font-size="33.43" textLength="161.06" lengthAdjust="spacingAndGlyphs">parameters</text>
<text x="613.00" y="112.00" font-size="28.49" textLength="32.93" lengthAdjust="spacingAndGlyphs">LR</text>
<text x="610.50" y="248.50" font-size="28.49" textLength="31.25" lengthAdjust="spacingAndGlyphs">LR</text>
</g>
</svg>
</body></html>
